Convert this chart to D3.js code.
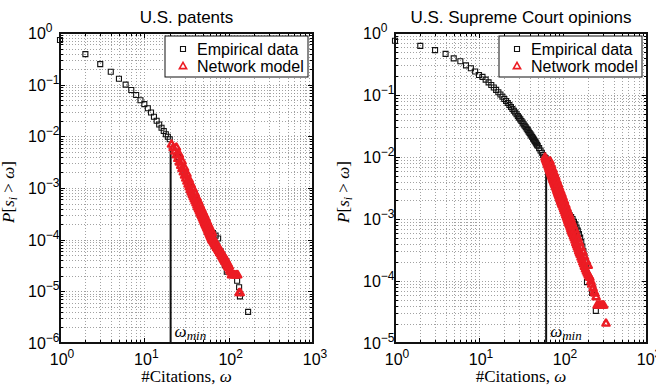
<!DOCTYPE html>
<html>
<head>
<meta charset="utf-8">
<script src="https://cdn.jsdelivr.net/npm/d3@7/dist/d3.min.js"></script>
<style>
  body { margin: 0; background: #fff; }
  svg { display: block; }
</style>
</head>
<body>
<div id="chart"></div>
<script>
const titles = ["U.S. patents", "U.S. Supreme Court opinions"];
const legendLabels = ["Empirical data", "Network model"];
const xDomain = [1, 1000];
const yDomains = [[1e-6, 1], [1e-5, 1]];
const omegaMin = [20.5, 63];
const omegaMinTop = [0.0063, 0.008];

// [omega, P(s > omega)]
const patentsEmpirical = [
  [1, 0.73], [2, 0.39], [3, 0.25], [4, 0.178], [5, 0.13], [6, 0.10], [7, 0.079],
  [8, 0.063], [9, 0.050], [10, 0.042], [11, 0.035], [12, 0.029], [13, 0.024],
  [14, 0.020], [15, 0.017], [16, 0.0147], [17, 0.0127], [18, 0.011], [19, 0.0098],
  [20, 0.0088], [25, 4.0e-3], [30, 2.0e-3], [35, 1.05e-3], [40, 6.4e-4], [45, 4.1e-4],
  [50, 2.8e-4], [55, 2.0e-4], [60, 1.5e-4], [65, 1.35e-4], [70, 1.2e-4], [75, 1.05e-4],
  [80, 6.0e-5], [85, 4.2e-5], [90, 3.2e-5], [95, 2.4e-5], [126, 1.6e-5], [133, 1.2e-5],
  [136, 8e-6], [170, 4e-6]
];
const patentsModel = [
  [21, 7.1e-3], [22, 6.07e-3], [23, 5.22e-3], [24, 4.43e-3], [25, 3.76e-3], [26, 3.21e-3],
  [27, 2.77e-3], [28, 2.40e-3], [29, 2.07e-3], [30, 1.79e-3], [31, 1.56e-3], [32, 1.37e-3],
  [33, 1.20e-3], [34, 1.06e-3], [35, 9.4e-4], [36, 8.4e-4], [37, 7.6e-4], [38, 6.9e-4],
  [39, 6.25e-4], [40, 5.7e-4], [41, 5.2e-4], [42, 4.7e-4], [43, 4.3e-4], [44, 3.97e-4],
  [45, 3.65e-4], [46, 3.37e-4], [47, 3.1e-4], [48, 2.87e-4], [49, 2.66e-4], [50, 2.46e-4],
  [51, 2.28e-4], [52, 2.12e-4], [53, 1.98e-4], [54, 1.85e-4], [55, 1.72e-4], [56, 1.61e-4],
  [57, 1.5e-4], [58, 1.41e-4], [59, 1.32e-4], [60, 1.24e-4], [61, 1.17e-4], [62, 1.10e-4],
  [63, 1.04e-4], [64, 9.8e-5], [66, 9.0e-5], [68, 8.3e-5], [70, 7.7e-5], [72, 7.1e-5],
  [74, 6.6e-5], [76, 6.2e-5], [78, 5.7e-5], [80, 5.4e-5], [82, 5.0e-5], [84, 4.7e-5],
  [86, 4.4e-5], [88, 4.1e-5], [90, 3.9e-5], [92, 3.7e-5], [94, 3.45e-5], [96, 3.2e-5],
  [98, 3.05e-5], [100, 2.9e-5], [103, 2.6e-5], [106, 2.4e-5],
  [24, 6.2e-3], [26, 4.5e-3], [28, 3.36e-3], [30, 2.5e-3], [32, 1.92e-3], [34, 1.48e-3],
  [36, 1.18e-3], [38, 9.7e-4], [40, 8.0e-4], [42, 6.6e-4], [44, 5.6e-4], [46, 4.7e-4],
  [48, 4.0e-4], [50, 3.45e-4], [52, 3.0e-4], [54, 2.6e-4], [56, 2.25e-4], [58, 1.97e-4],
  [60, 1.74e-4], [62, 1.54e-4], [64, 1.37e-4],
  [66, 1.05e-4], [70, 9.0e-5], [74, 7.6e-5], [78, 6.6e-5], [82, 5.8e-5], [86, 5.1e-5],
  [90, 4.5e-5], [94, 4.0e-5], [98, 3.5e-5], [102, 3.1e-5],
  [108, 2.1e-5], [113, 2.1e-5], [118, 2.1e-5], [123, 2.1e-5], [128, 2.1e-5],
  [133, 9.5e-6], [137, 9.5e-6]
];
const courtEmpirical = [
  [1, 0.75], [2, 0.62], [3, 0.53], [4, 0.46], [5, 0.39], [6, 0.35], [7, 0.30],
  [8, 0.27], [9, 0.24], [10, 0.21], [11, 0.196], [12, 0.177], [13, 0.160], [14, 0.145],
  [15, 0.132], [16, 0.121], [17, 0.111], [18, 0.102], [19, 0.0935], [20, 0.0863],
  [21, 0.0799], [22, 0.0741], [23, 0.0688], [24, 0.0640], [25, 0.0596], [26, 0.0557],
  [27, 0.0521], [28, 0.0488], [29, 0.0457], [30, 0.0430], [31, 0.0404], [32, 0.0380],
  [33, 0.0358], [34, 0.0338], [35, 0.0320], [36, 0.0302], [37, 0.0286], [38, 0.0271],
  [39, 0.0257], [40, 0.0244], [41, 0.0232], [42, 0.0221], [43, 0.0210], [44, 0.0200],
  [45, 0.0191], [46, 0.0182], [47, 0.0174], [48, 0.0166], [49, 0.0158], [50, 0.01515],
  [52, 0.0139], [54, 0.01274], [56, 0.01173], [58, 0.0108], [60, 0.00999],
  [62, 9.6e-3], [64, 8.9e-3], [66, 8.1e-3], [68, 7.3e-3], [70, 6.6e-3], [73, 5.8e-3],
  [76, 5.0e-3], [79, 4.4e-3], [82, 3.8e-3], [85, 3.3e-3], [88, 2.95e-3], [91, 2.6e-3],
  [94, 2.35e-3], [97, 2.15e-3], [100, 1.95e-3], [105, 1.65e-3], [110, 1.4e-3],
  [115, 1.25e-3], [120, 1.15e-3], [125, 1.08e-3], [130, 1.0e-3], [135, 9.0e-4],
  [140, 8.2e-4], [145, 7.3e-4], [150, 6.5e-4], [155, 5.7e-4], [160, 5.0e-4],
  [165, 4.3e-4], [170, 3.6e-4], [175, 3.0e-4], [180, 2.5e-4], [184, 2.0e-4],
  [188, 1.6e-4], [193, 9.6e-5], [222, 6.4e-5], [246, 3.3e-5]
];
const courtModel = [
  [61, 0.0100], [62, 9.4e-3], [63, 8.9e-3], [64, 8.4e-3], [65, 7.9e-3], [66, 7.5e-3],
  [67, 7.1e-3], [68, 6.7e-3], [69, 6.3e-3], [70, 6.0e-3], [71, 5.7e-3], [72, 5.4e-3],
  [73, 5.1e-3], [74, 4.85e-3], [75, 4.6e-3], [76, 4.4e-3], [77, 4.2e-3], [78, 4.0e-3],
  [79, 3.8e-3], [80, 3.65e-3], [81, 3.5e-3], [82, 3.35e-3], [83, 3.2e-3], [84, 3.05e-3],
  [85, 2.9e-3], [86, 2.78e-3], [87, 2.65e-3], [88, 2.55e-3], [89, 2.44e-3], [90, 2.35e-3],
  [91, 2.25e-3], [92, 2.16e-3], [93, 2.07e-3], [94, 1.99e-3], [95, 1.91e-3], [96, 1.84e-3],
  [97, 1.77e-3], [98, 1.7e-3], [100, 1.58e-3], [102, 1.47e-3], [104, 1.37e-3],
  [106, 1.27e-3], [108, 1.18e-3], [110, 1.1e-3], [112, 1.03e-3], [114, 9.6e-4],
  [116, 9.0e-4], [118, 8.5e-4], [120, 8.0e-4], [122, 7.5e-4], [124, 7.0e-4],
  [126, 6.6e-4], [128, 6.2e-4], [130, 5.9e-4], [133, 5.4e-4], [136, 5.0e-4],
  [139, 4.6e-4], [142, 4.2e-4], [145, 3.9e-4], [148, 3.6e-4], [151, 3.35e-4],
  [154, 3.1e-4], [157, 2.9e-4], [160, 2.7e-4], [164, 2.45e-4], [168, 2.25e-4],
  [172, 2.05e-4], [176, 1.9e-4], [180, 1.74e-4], [185, 1.58e-4], [190, 1.45e-4],
  [195, 1.35e-4], [200, 1.26e-4], [205, 1.2e-4], [209, 1.15e-4], [215, 1.0e-4],
  [220, 9.0e-5], [228, 7.8e-5], [235, 6.8e-5], [240, 6.4e-5], [248, 5.6e-5],
  [70, 8.7e-3], [73, 7.4e-3], [76, 6.4e-3], [79, 5.5e-3], [82, 4.85e-3], [85, 4.2e-3],
  [88, 3.7e-3], [91, 3.26e-3], [94, 2.89e-3], [97, 2.57e-3], [100, 2.29e-3],
  [104, 1.99e-3], [108, 1.71e-3], [112, 1.49e-3], [116, 1.3e-3], [120, 1.16e-3],
  [124, 1.02e-3], [128, 9.0e-4], [133, 7.8e-4], [139, 6.7e-4], [145, 5.7e-4],
  [151, 4.9e-4], [157, 4.2e-4], [164, 3.55e-4], [172, 3.0e-4], [180, 2.5e-4],
  [190, 2.1e-4], [200, 1.8e-4],
  [255, 4.1e-5], [265, 4.1e-5], [275, 4.1e-5], [285, 4.1e-5], [295, 4.1e-5], [305, 4.1e-5],
  [325, 2.1e-5]
];

const empiricalSets = [patentsEmpirical, courtEmpirical];
const modelSets = [patentsModel, courtModel];

const width = 656;
const height = 391;
const RED = "#ec1c24";
const SANS = "'Liberation Sans', Arial, Helvetica, sans-serif";
const SERIF = "'Liberation Serif', 'Times New Roman', serif";

const frames = [
  { left: 60, right: 313, top: 33, bottom: 343 },
  { left: 395, right: 647, top: 33, bottom: 343 }
];

const svg = d3.select("#chart").append("svg")
  .attr("width", width)
  .attr("height", height);

const SQUARE = "M-2.5,-2.5H2.5V2.5H-2.5Z";
const TRIANGLE = "M0,-3.6L3.6,2.6L-3.6,2.6Z";

function isDecade(v) {
  return Math.abs(Math.log10(v) - Math.round(Math.log10(v))) < 1e-9;
}

function powerLabel(sel, exp) {
  sel.append("tspan").text("10");
  sel.append("tspan")
    .attr("dy", -7)
    .attr("font-size", 12)
    .text(exp < 0 ? "\u2212" + (-exp) : String(exp));
}

function drawPanel(i) {
  const f = frames[i];
  const w = f.right - f.left;
  const h = f.bottom - f.top;
  const g = svg.append("g").attr("transform", `translate(${f.left},${f.top})`);

  const x = d3.scaleLog().domain(xDomain).range([0, w]);
  const y = d3.scaleLog().domain(yDomains[i]).range([h, 0]);

  const xt = x.ticks();
  const yt = y.ticks();

  // dotted grid
  const grid = g.append("g")
    .attr("stroke", "#8a8a8a")
    .attr("stroke-width", 0.8)
    .attr("stroke-dasharray", "1,2");
  grid.selectAll("line.gx")
    .data(xt.filter(v => v > xDomain[0] && v < xDomain[1]))
    .enter().append("line")
    .attr("x1", d => Math.round(x(d)) + 0.5).attr("x2", d => Math.round(x(d)) + 0.5)
    .attr("y1", 0).attr("y2", h);
  grid.selectAll("line.gy")
    .data(yt.filter(v => v > yDomains[i][0] && v < yDomains[i][1]))
    .enter().append("line")
    .attr("y1", d => Math.round(y(d)) + 0.5).attr("y2", d => Math.round(y(d)) + 0.5)
    .attr("x1", 0).attr("x2", w);

  // inward ticks on all sides
  const ticks = g.append("g").attr("stroke", "#000").attr("stroke-width", 1);
  xt.forEach(v => {
    const len = isDecade(v) ? 5 : 3;
    const px = Math.round(x(v)) + 0.5;
    ticks.append("line").attr("x1", px).attr("x2", px).attr("y1", h).attr("y2", h - len);
    ticks.append("line").attr("x1", px).attr("x2", px).attr("y1", 0).attr("y2", len);
  });
  yt.forEach(v => {
    const len = isDecade(v) ? 5 : 3;
    const py = Math.round(y(v)) + 0.5;
    ticks.append("line").attr("y1", py).attr("y2", py).attr("x1", 0).attr("x2", len);
    ticks.append("line").attr("y1", py).attr("y2", py).attr("x1", w).attr("x2", w - len);
  });

  // omega_min line
  g.append("line")
    .attr("x1", x(omegaMin[i])).attr("x2", x(omegaMin[i]))
    .attr("y1", h).attr("y2", y(omegaMinTop[i]))
    .attr("stroke", "#111").attr("stroke-width", 2);

  // empirical squares
  g.append("g").selectAll("path")
    .data(empiricalSets[i])
    .enter().append("path")
    .attr("d", SQUARE)
    .attr("transform", d => `translate(${x(d[0])},${y(d[1])})`)
    .attr("fill", "none")
    .attr("stroke", "#111")
    .attr("stroke-width", 1.1);

  // model triangles
  g.append("g").selectAll("path")
    .data(modelSets[i])
    .enter().append("path")
    .attr("d", TRIANGLE)
    .attr("transform", d => `translate(${x(d[0])},${y(d[1])})`)
    .attr("fill", "none")
    .attr("stroke", RED)
    .attr("stroke-width", 2.4)
    .attr("stroke-linejoin", "round");

  // omega_min label
  const wl = g.append("text")
    .attr("x", x(omegaMin[i]) + 4)
    .attr("y", h - 6)
    .attr("font-family", SERIF)
    .attr("font-style", "italic")
    .attr("font-size", 17);
  wl.append("tspan").text("\u03c9");
  wl.append("tspan").attr("dy", 3).attr("font-size", 13).text("min");

  // frame
  g.append("rect")
    .attr("width", w).attr("height", h)
    .attr("fill", "none")
    .attr("stroke", "#111")
    .attr("stroke-width", 2);

  // tick labels
  xt.filter(isDecade).forEach(v => {
    const t = g.append("text")
      .attr("x", x(v) + 2)
      .attr("y", h + 22)
      .attr("text-anchor", "middle")
      .attr("font-family", SANS)
      .attr("font-size", 16);
    powerLabel(t, Math.round(Math.log10(v)));
  });
  yt.filter(isDecade).forEach(v => {
    const t = g.append("text")
      .attr("x", -32)
      .attr("y", y(v) + 6)
      .attr("font-family", SANS)
      .attr("font-size", 16);
    powerLabel(t, Math.round(Math.log10(v)));
  });

  // title
  g.append("text")
    .attr("x", w / 2)
    .attr("y", -10)
    .attr("text-anchor", "middle")
    .attr("font-family", SANS)
    .attr("font-size", 17)
    .text(titles[i]);

  // x label
  const xl = g.append("text")
    .attr("x", w / 2)
    .attr("y", h + 39)
    .attr("text-anchor", "middle")
    .attr("font-family", SERIF)
    .attr("font-size", 17);
  xl.append("tspan").text("#Citations, ");
  xl.append("tspan").attr("font-style", "italic").text("\u03c9");

  // y label
  const yl = g.append("text")
    .attr("transform", `translate(${-46},${h / 2 + 4}) rotate(-90)`)
    .attr("text-anchor", "middle")
    .attr("font-family", SERIF)
    .attr("font-size", 17);
  yl.append("tspan").attr("font-style", "italic").text("P");
  yl.append("tspan").text("[");
  yl.append("tspan").attr("font-style", "italic").text("s");
  yl.append("tspan").attr("font-style", "italic").attr("font-size", 12).attr("dy", 3).text("i");
  yl.append("tspan").attr("dy", -3).text(" > ");
  yl.append("tspan").attr("font-style", "italic").text("\u03c9");
  yl.append("tspan").text("]");

  // legend
  const lx = w - 148;
  const lg = g.append("g").attr("transform", `translate(${lx},3)`);
  lg.append("rect")
    .attr("width", 143).attr("height", 41)
    .attr("fill", "#fff")
    .attr("stroke", "#111")
    .attr("stroke-width", 1);
  [0, 1].forEach(k => {
    const cy = 13 + k * 17;
    lg.append("path")
      .attr("d", k === 0 ? SQUARE : TRIANGLE)
      .attr("transform", `translate(18,${cy})`)
      .attr("fill", "none")
      .attr("stroke", k === 0 ? "#111" : RED)
      .attr("stroke-width", k === 0 ? 1.1 : 1.6);
    lg.append("text")
      .attr("x", 32)
      .attr("y", cy + 5.5)
      .attr("font-family", SANS)
      .attr("font-size", 16)
      .text(legendLabels[k]);
  });
}

drawPanel(0);
drawPanel(1);
</script>
</body>
</html>
